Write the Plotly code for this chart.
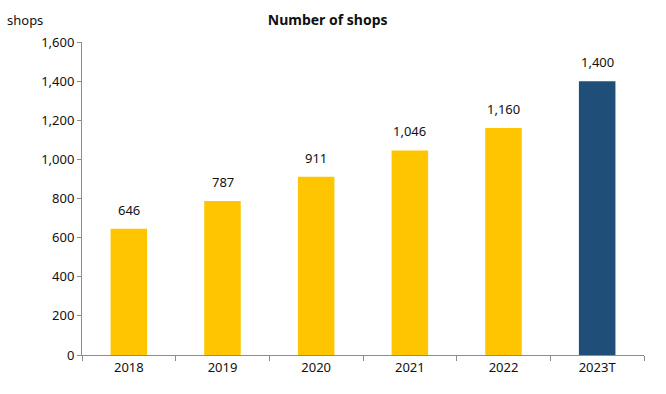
import plotly.graph_objects as go

years = ["2018", "2019", "2020", "2021", "2022", "2023T"]
shops = [646, 787, 911, 1046, 1160, 1400]
bar_colors = ["#FFC600", "#FFC600", "#FFC600", "#FFC600", "#FFC600", "#1F4E79"]
y_ticks = [0, 200, 400, 600, 800, 1000, 1200, 1400, 1600]

FONT = "Noto Sans"

fig = go.Figure(
    go.Bar(
        x=years,
        y=shops,
        marker=dict(color=bar_colors, line=dict(width=0)),
        width=0.39,
        hoverinfo="skip",
    )
)

# value labels above each bar (category index positions)
for i, v in enumerate(shops):
    fig.add_annotation(
        x=i, y=v, text=f"{v:,}", showarrow=False,
        yanchor="bottom", yshift=8,
        font=dict(family=FONT, size=13, color="#111111"),
    )

fig.add_annotation(
    xref="paper", yref="paper", x=-0.137, y=1.045, yshift=-3,
    xanchor="left", yanchor="bottom",
    text="shops", showarrow=False,
    font=dict(family=FONT, size=13, color="#111111"),
)

fig.update_layout(
    width=666, height=394,
    margin=dict(l=82, r=22, t=42, b=39),
    paper_bgcolor="white", plot_bgcolor="white",
    showlegend=False,
    title=dict(
        text="<b>Number of shops</b>", x=0.492, xanchor="center",
        y=0.948, yanchor="middle",
        font=dict(family=FONT, size=14, color="#111111"),
    ),
    font=dict(family=FONT, size=13, color="#111111"),
    xaxis=dict(
        type="category", tickangle=0, range=[-0.5, len(years) - 0.5],
        showline=True, linecolor="#8C8C8C", linewidth=1,
        ticks="outside", tickson="boundaries", ticklen=5, tickcolor="#8C8C8C",
        showgrid=False, fixedrange=True, automargin=False,
    ),
    yaxis=dict(
        range=[0, 1600], tickvals=y_ticks,
        ticktext=[f"{t:,}" for t in y_ticks],
        showline=True, linecolor="#8C8C8C", linewidth=1,
        ticks="outside", ticklen=4, tickcolor="#8C8C8C",
        showgrid=False, zeroline=False, fixedrange=True, automargin=False,
    ),
)

fig.write_html("out.html")
